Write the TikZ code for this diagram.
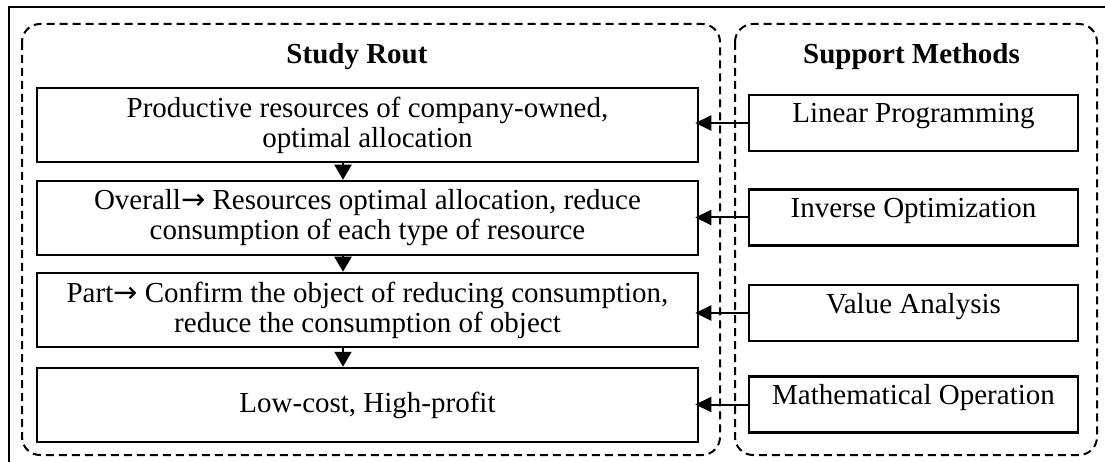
\documentclass[tikz,border=0pt]{standalone}
\usepackage{fontspec}
\setmainfont{Liberation Serif}
\newfontfamily\arrowfont{DejaVu Sans}
\usetikzlibrary{arrows.meta}
\tikzset{
  frameline/.style={line width=2.5pt},
  groupbox/.style={draw, line width=2pt, dash pattern=on 8pt off 5pt, rounded corners=18pt},
  routebox/.style={draw, line width=2.5pt, inner sep=0pt, minimum width=661pt, minimum height=74pt, align=center,
    font=\fontsize{29}{30}\selectfont},
  methodbox/.style={draw, line width=2.5pt, inner sep=0pt, minimum width=329pt, minimum height=56pt,
    text height=19pt, text depth=19pt, font=\fontsize{29}{30}\selectfont},
  grouptitle/.style={font=\fontsize{29}{30}\selectfont\bfseries},
  downarr/.style={-{Triangle[length=15pt,width=17pt]}, line width=2pt},
  leftarr/.style={-{Triangle[length=16pt,width=15pt]}, line width=2pt, shorten >=-4pt},
}
\newcommand{\rarr}{{\arrowfont →}}
\begin{document}
\begin{tikzpicture}[x=1pt,y=-1pt]
\useasboundingbox (0,0) rectangle (1105,462);
% outer frame (right and bottom edges outside the picture)
\draw[frameline] (9,462) -- (9,7) -- (1105,7);
% group boxes
\draw[groupbox] (22,24) rectangle (720,455);
\draw[groupbox] (735,24) rectangle (1097,455);
\node[grouptitle] (t1) at (357,57) {Study Rout};
\node[grouptitle] (t2) at (911.5,57) {Support Methods};
% study route
\node[routebox] (lb1) at (367.5,125) {Productive resources of company-owned,\\optimal allocation};
\node[routebox] (lb2) at (367.5,218) {Overall\rarr{} Resources optimal allocation, reduce\\consumption of each type of resource};
\node[routebox] (lb3) at (367.5,310) {Part\rarr{} Confirm the object of reducing consumption,\\reduce the consumption of object};
\node[routebox] (lb4) at (367.5,405) {Low-cost, High-profit};
% support methods
\node[methodbox] (rb1) at (913.5,123) {Linear Programming};
\node[methodbox] (rb2) at (913.5,217.5) {Inverse Optimization};
\node[methodbox] (rb3) at (913.5,313) {Value Analysis};
\node[methodbox] (rb4) at (913.5,404.5) {Mathematical Operation};
% connectors
\draw[downarr] ([xshift=-24.5pt]lb1.south) -- ([xshift=-24.5pt]lb2.north);
\draw[downarr] ([xshift=-24.5pt]lb2.south) -- ([xshift=-24.5pt]lb3.north);
\draw[downarr] ([xshift=-24.5pt]lb3.south) -- ([xshift=-24.5pt]lb4.north);
\draw[leftarr] (rb1.west) -- (rb1.west -| lb1.east);
\draw[leftarr] (rb2.west) -- (rb2.west -| lb2.east);
\draw[leftarr] (rb3.west) -- (rb3.west -| lb3.east);
\draw[leftarr] (rb4.west) -- (rb4.west -| lb4.east);
\end{tikzpicture}
\end{document}
